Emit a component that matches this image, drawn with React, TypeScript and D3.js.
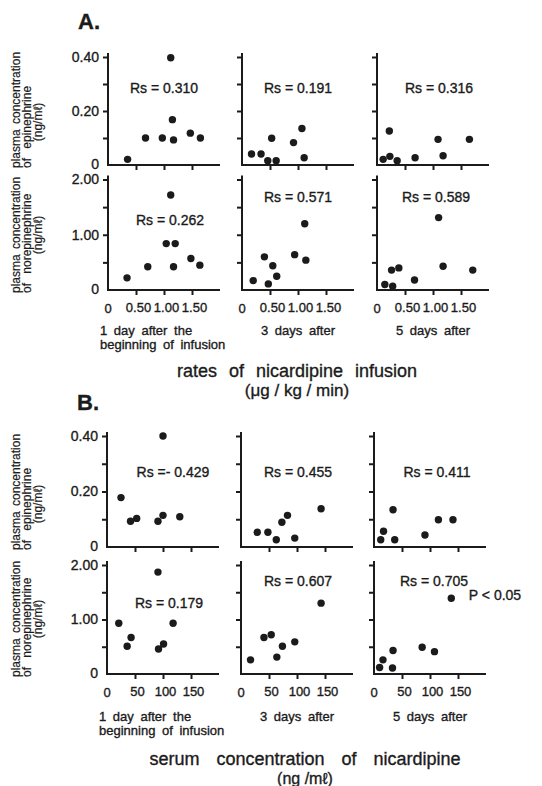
import React, { useEffect, useRef } from 'react';
import * as d3 from 'd3';

type Pt = [number, number];

// A. x = rate of nicardipine infusion (µg/kg/min), y = plasma conc. (ng/ml)
const aEpiDay1: Pt[] = [[0.35, 0.021], [0.67, 0.1], [0.97, 0.1], [1.12, 0.397], [1.15, 0.168], [1.17, 0.093], [1.47, 0.118], [1.65, 0.1]];
const aEpiDay3: Pt[] = [[0.17, 0.041], [0.34, 0.041], [0.46, 0.016], [0.61, 0.016], [0.53, 0.099], [0.92, 0.083], [1.07, 0.135], [1.11, 0.027]];
const aEpiDay5: Pt[] = [[0.11, 0.021], [0.23, 0.032], [0.36, 0.016], [0.22, 0.126], [0.68, 0.027], [1.09, 0.095], [1.18, 0.034], [1.65, 0.095]];
const aNeDay1: Pt[] = [[0.34, 0.22], [0.71, 0.42], [1.04, 0.84], [1.2, 0.84], [1.12, 1.72], [1.17, 0.42], [1.48, 0.57], [1.64, 0.45]];
const aNeDay3: Pt[] = [[0.2, 0.17], [0.47, 0.11], [0.4, 0.6], [0.55, 0.44], [0.62, 0.25], [0.94, 0.64], [1.12, 1.2], [1.14, 0.54]];
const aNeDay5: Pt[] = [[0.14, 0.1], [0.28, 0.07], [0.26, 0.36], [0.39, 0.4], [0.67, 0.18], [1.1, 1.31], [1.18, 0.43], [1.71, 0.36]];

// B. x = serum concentration of nicardipine (ng/ml)
const bEpiDay1: Pt[] = [[25, 0.178], [42, 0.093], [53, 0.103], [91, 0.093], [100, 0.114], [100, 0.4], [130, 0.109]];
const bEpiDay3: Pt[] = [[29, 0.053], [48, 0.053], [63, 0.026], [73, 0.089], [83, 0.114], [96, 0.032], [143, 0.138]];
const bEpiDay5: Pt[] = [[12, 0.026], [17, 0.057], [34, 0.134], [37, 0.026], [91, 0.043], [115, 0.098], [141, 0.098]];
const bNeDay1: Pt[] = [[21, 0.93], [36, 0.51], [43, 0.67], [91, 1.87], [92, 0.46], [101, 0.55], [118, 0.93]];
const bNeDay3: Pt[] = [[17, 0.26], [41, 0.67], [54, 0.72], [64, 0.31], [74, 0.51], [96, 0.59], [143, 1.3]];
const bNeDay5: Pt[] = [[10, 0.12], [16, 0.26], [34, 0.43], [33, 0.11], [86, 0.49], [108, 0.41], [138, 1.39]];

const rateTicks = [0, 0.5, 1.0, 1.5];
const rateTickLabels = ['0', '0.50', '1.00', '1.50'];
const serumTicks = [0, 50, 100, 150];
const serumTickLabels = ['0', '50', '100', '150'];
const epiTicks = [0, 0.1, 0.2, 0.3, 0.4];
const epiTickLabels = ['0', '', '0.20', '', '0.40'];
const neTicks = [0, 0.5, 1.0, 1.5, 2.0];
const neTickLabels = ['0', '', '1.00', '', '2.00'];

const dayLabels = [['1 day after the', 'beginning of infusion'], ['3 days after'], ['5 days after']];
const rsA = [['Rs = 0.310', 'Rs = 0.191', 'Rs = 0.316'], ['Rs = 0.262', 'Rs = 0.571', 'Rs = 0.589']];
const rsB = [['Rs =- 0.429', 'Rs = 0.455', 'Rs = 0.411'], ['Rs = 0.179', 'Rs = 0.607', 'Rs = 0.705']];

const INK = '#1b1b1b';
const FONT = '"Liberation Sans", Arial, Helvetica, sans-serif';
const SPAN = 84; // px from 0 to third x tick
const AXIS_LEN = 112;

const sections = [
  {
    letter: 'A.', letterAt: [78, 29],
    colX: [108, 242, 377],
    xTicks: rateTicks, xLabels: rateTickLabels,
    dayY: 335, titleY: 377,
    title: ['rates of nicardipine infusion', '(μg / kg / min)'], titleX: 297, titleSize: [18, 17],
    rows: [
      { y0: 165, h: 108, yTicks: epiTicks, yLabels: epiTickLabels, hormone: 'epinephrine', data: [aEpiDay1, aEpiDay3, aEpiDay5], rs: rsA[0], rsAt: [[56, -72], [56, -72], [62, -72]] },
      { y0: 290, h: 110.5, yTicks: neTicks, yLabels: neTickLabels, hormone: 'norepinephrine', data: [aNeDay1, aNeDay3, aNeDay5], rs: rsA[1], rsAt: [[62, -65], [56, -88], [59, -88]] },
    ],
  },
  {
    letter: 'B.', letterAt: [77, 410],
    colX: [107, 241, 374],
    xTicks: serumTicks, xLabels: serumTickLabels,
    dayY: 721, titleY: 765,
    title: ['serum concentration of nicardipine', '(ng /mℓ)'], titleX: 305, titleSize: [18, 16],
    rows: [
      { y0: 547, h: 111, yTicks: epiTicks, yLabels: epiTickLabels, hormone: 'epinephrine', data: [bEpiDay1, bEpiDay3, bEpiDay5], rs: rsB[0], rsAt: [[66, -70], [57, -70], [63, -70]] },
      { y0: 674, h: 109, yTicks: neTicks, yLabels: neTickLabels, hormone: 'norepinephrine', data: [bNeDay1, bNeDay3, bNeDay5], rs: rsB[1], rsAt: [[62, -66], [57, -88], [60, -88]] },
    ],
  },
];

export default function App() {
  const svgRef = useRef<SVGSVGElement>(null);
  const width = 542;
  const height = 786;

  useEffect(() => {
    const svg = d3.select(svgRef.current);
    svg.selectAll('*').remove();
    svg.attr('width', width).attr('height', height);
    // scanned print looks a bit heavier than plain text
    svg.append('style').text(`text { stroke: ${INK}; stroke-width: 0.35px; }`);
    svg.append('rect').attr('width', width).attr('height', height).attr('fill', '#fff');

    sections.forEach((sec) => {
      // panel letter
      svg.append('text')
        .attr('x', sec.letterAt[0]).attr('y', sec.letterAt[1])
        .attr('font-family', FONT).attr('font-size', 22).attr('font-weight', 'bold')
        .attr('fill', INK).text(sec.letter);

      sec.rows.forEach((row, ri) => {
        const isBottom = ri === sec.rows.length - 1;
        sec.colX.forEach((x0, ci) => {
          const g = svg.append('g');
          const xs = d3.scaleLinear().domain([0, sec.xTicks[3]]).range([x0, x0 + SPAN]);
          const ys = d3.scaleLinear().domain([0, row.yTicks[4]]).range([row.y0, row.y0 - row.h]);

          // x axis
          const xAxis = d3.axisBottom(xs)
            .tickValues(sec.xTicks.slice(1))
            .tickSize(5).tickSizeOuter(0).tickPadding(8)
            .tickFormat((d, i) => (isBottom ? sec.xLabels[i + 1] : ''));
          const gx = g.append('g').attr('transform', `translate(0,${row.y0})`).call(xAxis);
          gx.select('.domain').remove();
          gx.selectAll('line').attr('stroke', INK).attr('stroke-width', 2);
          gx.selectAll('text').attr('font-family', FONT).attr('font-size', 13).attr('fill', INK).attr('dx', 2);
          if (isBottom) {
            g.append('text')
              .attr('x', xs(0)).attr('y', row.y0 + 23)
              .attr('text-anchor', 'middle')
              .attr('font-family', FONT).attr('font-size', 13).attr('fill', INK)
              .text(sec.xLabels[0]);
          }

          // y axis
          const yAxis = d3.axisLeft(ys)
            .tickValues(row.yTicks.slice(1))
            .tickSize(5).tickSizeOuter(0).tickPadding(4)
            .tickFormat((d, i) => (ci === 0 ? row.yLabels[i + 1] : ''));
          const gy = g.append('g').attr('transform', `translate(${x0},0)`).call(yAxis);
          gy.select('.domain').remove();
          gy.selectAll('line').attr('stroke', INK).attr('stroke-width', 2);
          gy.selectAll('text').attr('font-family', FONT).attr('font-size', 14).attr('fill', INK);
          if (ci === 0) {
            g.append('text')
              .attr('x', x0 - 9).attr('y', row.y0).attr('dy', '0.32em')
              .attr('text-anchor', 'end')
              .attr('font-family', FONT).attr('font-size', 14).attr('fill', INK)
              .text(row.yLabels[0]);
          }

          // axis lines
          g.append('line')
            .attr('x1', x0).attr('x2', x0)
            .attr('y1', row.y0 + 1).attr('y2', row.y0 - row.h - 4)
            .attr('stroke', INK).attr('stroke-width', 2);
          g.append('line')
            .attr('x1', x0 - 1).attr('x2', x0 + AXIS_LEN)
            .attr('y1', row.y0).attr('y2', row.y0)
            .attr('stroke', INK).attr('stroke-width', 2);

          // points
          g.selectAll('circle')
            .data(row.data[ci])
            .enter()
            .append('circle')
            .attr('cx', (d) => xs(d[0]))
            .attr('cy', (d) => ys(d[1]))
            .attr('r', 3.7)
            .attr('fill', INK);

          // Rs label
          g.append('text')
            .attr('x', x0 + row.rsAt[ci][0]).attr('y', row.y0 + row.rsAt[ci][1])
            .attr('text-anchor', 'middle')
            .attr('font-family', FONT).attr('font-size', 14).attr('fill', INK)
            .text(row.rs[ci]);

          // y label block for the left column
          if (ci === 0) {
            const bottom = row.y0 + 3;
            const lines = [
              { x: 20, text: 'plasma concentration', anchor: 'start', pos: bottom, ws: 2 },
              { x: 31, text: `of ${row.hormone}`, anchor: 'start', pos: bottom, ws: 6 },
              { x: 42, text: '(ng/mℓ)', anchor: 'middle', pos: bottom - (row.hormone === 'epinephrine' ? 46 : 58), ws: 0 },
            ];
            lines.forEach((l) => {
              g.append('text')
                .attr('transform', `translate(${l.x},${l.pos}) rotate(-90)`)
                .attr('text-anchor', l.anchor)
                .attr('font-family', FONT).attr('font-size', 12)
                .attr('word-spacing', l.ws)
                .attr('fill', INK)
                .style('stroke-width', '0.2px')
                .text(l.text);
            });
          }

          // day labels under bottom row
          if (isBottom) {
            const lbl = dayLabels[ci];
            lbl.forEach((t, li) => {
              g.append('text')
                .attr('x', ci === 0 ? x0 - 8 : x0 + 56)
                .attr('y', sec.dayY + li * 14)
                .attr('text-anchor', ci === 0 ? 'start' : 'middle')
                .attr('font-family', FONT).attr('font-size', 13)
                .attr('word-spacing', 3)
                .attr('fill', INK)
                .text(t);
            });
          }
        });
      });

      // section title
      svg.append('text')
        .attr('x', sec.titleX).attr('y', sec.titleY)
        .attr('text-anchor', 'middle')
        .attr('font-family', FONT).attr('font-size', sec.titleSize[0])
        .attr('word-spacing', sec.letter === 'A.' ? 7 : 12)
        .attr('fill', INK)
        .text(sec.title[0]);
      svg.append('text')
        .attr('x', sec.titleX).attr('y', sec.titleY + 19)
        .attr('text-anchor', 'middle')
        .attr('font-family', FONT).attr('font-size', sec.titleSize[1])
        .attr('fill', INK)
        .text(sec.title[1]);
    });

    // significance note
    svg.append('text')
      .attr('x', 495).attr('y', 600)
      .attr('text-anchor', 'middle')
      .attr('font-family', FONT).attr('font-size', 14).attr('fill', INK)
      .text('P < 0.05');
  }, []);

  return (
    <svg ref={svgRef} style={{ position: 'absolute', left: 0, top: 0, display: 'block' }}></svg>
  );
}
